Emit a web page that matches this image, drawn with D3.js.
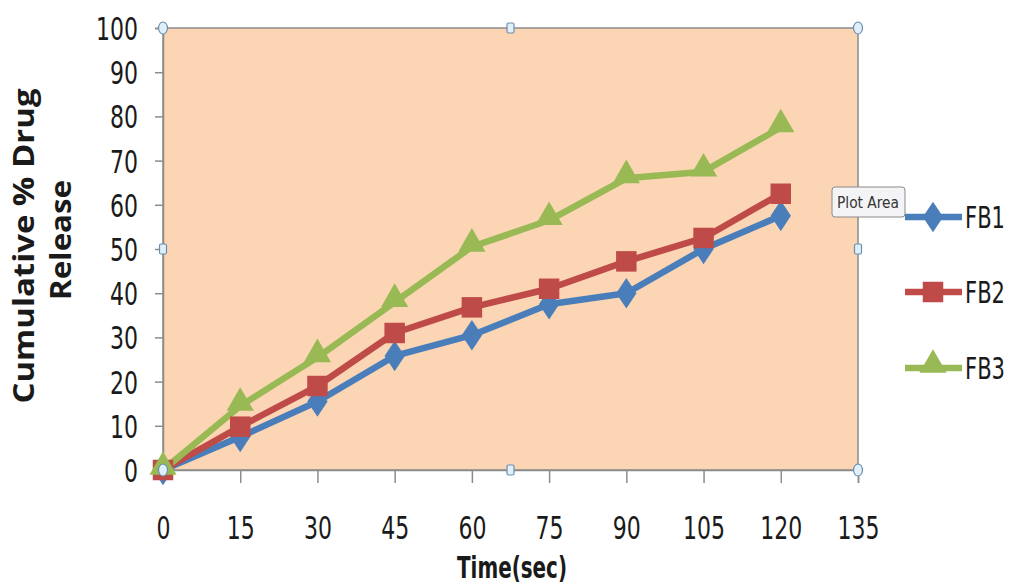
<!DOCTYPE html>
<html><head><meta charset="utf-8">
<script src="https://cdn.jsdelivr.net/npm/d3@7"></script>
<style>
body{margin:0;background:#fff;}
svg{display:block;}
.narrow{font-family:"DejaVu Sans Condensed","Liberation Sans Narrow",sans-serif;}
</style></head><body>
<svg id="c" width="1015" height="587"></svg>
<script>
const times = [0, 15, 30, 45, 60, 75, 90, 105, 120];
const fb1 = [0, 7.5, 15.5, 25.8, 30.5, 37.5, 40, 50, 57.5];
const fb2 = [0, 9.8, 19, 31, 36.8, 41, 47.2, 52.5, 62.5];
const fb3 = [0, 14.5, 25.5, 38, 50.5, 56.5, 66, 67.5, 77.5];
const seriesNames = ["FB1", "FB2", "FB3"];
const xTicks = [0, 15, 30, 45, 60, 75, 90, 105, 120, 135];
const yTicks = [0, 10, 20, 30, 40, 50, 60, 70, 80, 90, 100];

const colors = ["#4A7EBB", "#BE4B48", "#98B954"];
const svg = d3.select("#c");
const L = 163, R = 858, T = 28, B = 470;
const x = d3.scaleLinear().domain([0, 135]).range([L, R]);
const y = d3.scaleLinear().domain([0, 100]).range([B, T]);
const digitW = 14;

// plot area
svg.append("rect").attr("x", L).attr("y", T).attr("width", R - L).attr("height", B - T)
  .attr("fill", "#FCD5B5").attr("stroke", "#8c8c8c").attr("stroke-width", 1.5);

// y axis
const ya = svg.append("g").attr("transform", `translate(${L},0)`)
  .call(d3.axisLeft(y).tickValues(yTicks).tickSize(8).tickPadding(17).tickFormat(d3.format("d")));
ya.select(".domain").attr("stroke", "#8c8c8c").attr("stroke-width", 1.5);
ya.selectAll(".tick line").attr("stroke", "#8c8c8c").attr("stroke-width", 1.5);
ya.selectAll(".tick text").attr("class", "narrow").attr("font-size", 32).attr("fill", "#1a1a1a")
  .attr("dy", "0.36em")
  .attr("textLength", d => String(d).length * digitW).attr("lengthAdjust", "spacingAndGlyphs");

// x axis
const xa = svg.append("g").attr("transform", `translate(0,${B})`)
  .call(d3.axisBottom(x).tickValues(xTicks).tickSize(13).tickPadding(36).tickFormat(d3.format("d")));
xa.select(".domain").attr("stroke", "#8c8c8c").attr("stroke-width", 1.5);
xa.selectAll(".tick line").attr("stroke", "#8c8c8c").attr("stroke-width", 1.5);
xa.selectAll(".tick text").attr("class", "narrow").attr("font-size", 32).attr("fill", "#1a1a1a")
  .attr("dy", "0.62em")
  .attr("textLength", d => String(d).length * digitW).attr("lengthAdjust", "spacingAndGlyphs");

// axis titles
svg.append("text").attr("class", "narrow").attr("x", 512).attr("y", 578)
  .attr("text-anchor", "middle").attr("font-size", 30).attr("font-weight", "bold")
  .attr("fill", "#1a1a1a").attr("textLength", 110).attr("lengthAdjust", "spacingAndGlyphs")
  .text("Time(sec)");
const yt = svg.append("text").attr("transform", "translate(0,246) rotate(-90)")
  .attr("text-anchor", "middle").attr("font-family", "'Open Sans',sans-serif")
  .attr("font-size", 29).attr("font-weight", "bold").attr("fill", "#1a1a1a");
yt.append("tspan").attr("x", 0).attr("y", 34).attr("textLength", 315).attr("lengthAdjust", "spacingAndGlyphs")
  .text("Cumulative % Drug");
yt.append("tspan").attr("x", 6).attr("y", 71).attr("textLength", 120).attr("lengthAdjust", "spacingAndGlyphs")
  .text("Release");

// series
const allSeries = [fb1, fb2, fb3];
const line = d3.line().x((d, i) => x(times[i])).y(d => y(d));
const sym = [d3.symbolDiamond, d3.symbolSquare, d3.symbolTriangle];
const symSize = [270, 420, 320];
allSeries.forEach((s, k) => {
  svg.append("path").datum(s).attr("d", line).attr("fill", "none")
    .attr("stroke", colors[k]).attr("stroke-width", 6.5).attr("stroke-linejoin", "round");
});
allSeries.forEach((s, k) => {
  svg.append("g").selectAll("path").data(s).join("path")
    .attr("d", d3.symbol().type(sym[k]).size(symSize[k]))
    .attr("transform", (d, i) => `translate(${x(times[i])},${y(d) + (k === 2 ? -3 : 0)})${k === 0 ? " scale(1.15,1)" : ""}`)
    .attr("fill", colors[k]);
});

// legend
const legY = [217, 292, 368];
seriesNames.forEach((n, k) => {
  const g = svg.append("g").attr("transform", `translate(0,${legY[k]})`);
  g.append("line").attr("x1", 905).attr("x2", 962).attr("y1", 0).attr("y2", 0)
    .attr("stroke", colors[k]).attr("stroke-width", 6.5);
  g.append("path").attr("d", d3.symbol().type(sym[k]).size(symSize[k]))
    .attr("transform", `translate(933,${k === 2 ? -3 : 0})${k === 0 ? " scale(1.15,1)" : ""}`)
    .attr("fill", colors[k]);
  g.append("text").attr("class", "narrow").attr("x", 965).attr("y", 0).attr("dy", "0.36em")
    .attr("font-size", 30).attr("fill", "#1a1a1a")
    .attr("textLength", 40).attr("lengthAdjust", "spacingAndGlyphs").text(n);
});

// selection handles
const handleFill = "#dff0fb", handleStroke = "#6d8fae";
[[L, T], [R, T], [L, B], [R, B]].forEach(([hx, hy]) => {
  svg.append("ellipse").attr("cx", hx).attr("cy", hy).attr("rx", 4.5).attr("ry", 6)
    .attr("fill", handleFill).attr("stroke", handleStroke).attr("stroke-width", 1.2);
});
[[(L + R) / 2, T], [L, (T + B) / 2], [R, (T + B) / 2], [(L + R) / 2, B]].forEach(([hx, hy]) => {
  svg.append("rect").attr("x", hx - 3.5).attr("y", hy - 5).attr("width", 7).attr("height", 10).attr("rx", 1.5)
    .attr("fill", handleFill).attr("stroke", handleStroke).attr("stroke-width", 1.2);
});

// tooltip
const tip = svg.append("g").attr("transform", "translate(832,187)");
tip.append("rect").attr("x", 0).attr("y", 0).attr("width", 73).attr("height", 30).attr("rx", 3)
  .attr("fill", "#f4f4f6").attr("stroke", "#8a8a8a").attr("stroke-width", 1);
tip.append("text").attr("class", "narrow").attr("x", 36).attr("y", 15).attr("dy", "0.35em")
  .attr("text-anchor", "middle").attr("font-size", 16).attr("fill", "#333")
  .attr("textLength", 62).attr("lengthAdjust", "spacingAndGlyphs").text("Plot Area");
</script>
</body></html>
